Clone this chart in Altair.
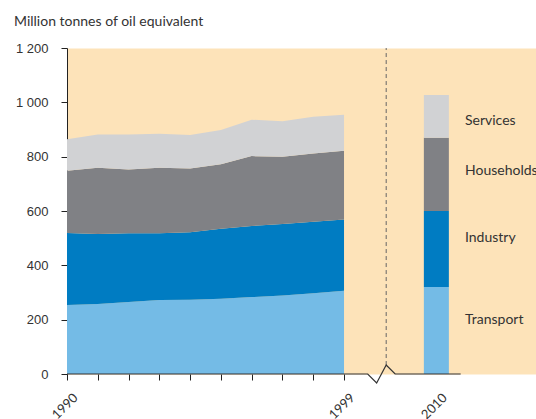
import altair as alt
import pandas as pd

# ---- data ----
years = list(range(1990, 2000))
year_pos = list(range(10))
transport = [254, 258, 265, 272, 273, 277, 283, 289, 297, 306]
industry = [265, 257, 253, 246, 249, 258, 262, 263, 263, 263]
households = [229, 244, 235, 241, 234, 237, 257, 248, 252, 253]
services = [116, 123, 129, 125, 124, 126, 134, 130, 135, 132]

sectors = ["Transport", "Industry", "Households", "Services"]
colors = ["#74bbe6", "#007cc2", "#808185", "#d1d2d4"]

proj_pos = 12
proj_values = [320, 280, 270, 157]          # 2010
label_values = [200, 500, 746, 931]         # where the sector names sit
label_pos = 12.93

break_pos = 10.37
break_top = 1200
break_bottom = 33
axis_line_x = [0, 9.77, 10.06, 10.37, 10.66, 12.79]
axis_line_y = [0, 0, -33, 33, 0, 0]

tick_positions = list(range(10)) + [12]
y_ticks = [0, 200, 400, 600, 800, 1000, 1200]

# ---- tables ----
series = [transport, industry, households, services]
rows = []
for si, (name, vals) in enumerate(zip(sectors, series)):
    for p, v in zip(year_pos, vals):
        rows.append({"pos": p, "value": v, "sector": name, "idx": si})
area_df = pd.DataFrame(rows)

bar_df = pd.DataFrame({"pos": [proj_pos] * 4, "value": proj_values,
                       "sector": sectors, "idx": list(range(4))})
label_df = pd.DataFrame({"pos": [label_pos] * 4, "value": label_values, "sector": sectors})
dash_df = pd.DataFrame({"pos": [break_pos], "value": [break_bottom], "y2": [break_top]})
axis_df = pd.DataFrame({"pos": axis_line_x, "value": axis_line_y, "i": list(range(len(axis_line_x)))})

xscale = alt.Scale(domain=[0, 469 / 30.78], nice=False, zero=False, padding=0)
yscale = alt.Scale(domain=[0, 1200], nice=False)
cscale = alt.Scale(domain=sectors, range=colors)

x_axis = alt.Axis(
    values=tick_positions,
    labelExpr="datum.value == 0 ? '1990' : datum.value == 9 ? '1999' : datum.value == 12 ? '2010' : ''",
    labelAngle=-45, labelFont="Lato", labelFontSize=13, labelColor="#333333",
    labelPadding=11, labelOffset=4,
    domain=False, grid=False, tickSize=6,
    tickColor={"condition": {"test": "datum.value > 10", "value": "transparent"}, "value": "#222222"},
    title=None,
)
y_axis = alt.Axis(
    values=y_ticks,
    labelExpr="replace(format(datum.value, ','), ',', ' ')",
    labelFont="Liberation Sans", labelFontSize=13, labelColor="#333333",
    labelPadding=13, tickSize=6, tickColor="#222222", domainColor="#222222",
    grid=False, title=None,
)

X = alt.X("pos:Q", scale=xscale, axis=x_axis)
Y = alt.Y("value:Q", scale=yscale, axis=y_axis)

area = alt.Chart(area_df).mark_area(interpolate="linear").encode(
    x=X,
    y=alt.Y("value:Q", scale=yscale, axis=y_axis, stack="zero"),
    color=alt.Color("sector:N", scale=cscale, legend=None),
    order=alt.Order("idx:Q"),
)

bar = alt.Chart(bar_df).mark_bar(size=25).encode(
    x=X,
    y=alt.Y("value:Q", scale=yscale, axis=y_axis, stack="zero"),
    color=alt.Color("sector:N", scale=cscale, legend=None),
    order=alt.Order("idx:Q"),
)

labels = alt.Chart(label_df).mark_text(
    align="left", baseline="middle", font="Lato", fontSize=14, color="#333333"
).encode(
    x=X, y=Y, text="sector:N",
)

dash = alt.Chart(dash_df).mark_rule(color="#666666", strokeDash=[4, 3], strokeWidth=1).encode(
    x=X, y=Y, y2="y2:Q",
)

axis_line = alt.Chart(axis_df).mark_line(color="#333333", strokeWidth=1.2).encode(
    x=X, y=Y, order="i:Q",
)

chart = alt.layer(area, bar, dash, axis_line, labels).properties(
    width=469, height=326,
    padding={"left": 67, "top": 48, "right": 0, "bottom": 45},
    autosize=alt.AutoSizeParams(type="none"),
    title=alt.TitleParams(
        text="Million tonnes of oil equivalent", anchor="start", frame="group", dx=-53, offset=2,
        baseline="alphabetic", font="Lato", fontSize=14, fontWeight="normal", color="#333333",
    ),
).configure_view(fill="#fde3b9", stroke="transparent")

chart.save("out.html", embed_options={"renderer": "svg", "actions": False})
